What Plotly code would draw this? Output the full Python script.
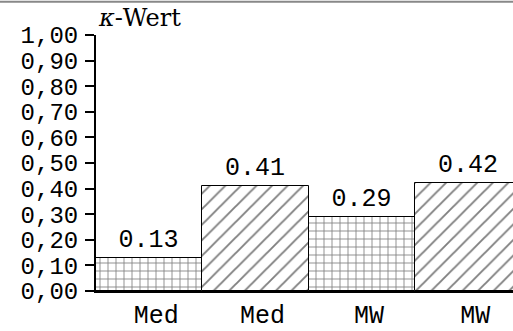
import plotly.graph_objects as go

categories = ["Med", "Med", "MW", "MW"]
kappa = [0.13, 0.41, 0.29, 0.42]
patterns = ["+", "/", "+", "/"]
pattern_sizes = [8, 11, 8, 11]
pattern_solidity = [0.2, 0.17, 0.2, 0.17]
value_labels = [f"{v:.2f}" for v in kappa]
ytick_vals = [i / 10 for i in range(11)]

mono = "Liberation Mono"
serif = "DejaVu Serif"

x = list(range(len(kappa)))

fig = go.Figure()
fig.add_trace(go.Bar(
    x=x, y=kappa, width=1.0,
    text=value_labels, textposition="outside", cliponaxis=False,
    textfont=dict(family=mono, size=25, color="black"),
    marker=dict(
        color="white",
        line=dict(color="black", width=1),
        pattern=dict(shape=patterns, size=pattern_sizes, solidity=pattern_solidity,
                     fgcolor="black", bgcolor="white", fillmode="overlay"),
    ),
))

fig.update_layout(
    width=513, height=331,
    margin=dict(l=96, r=0, t=35, b=33),
    plot_bgcolor="white", paper_bgcolor="white",
    separators=",.",
    showlegend=False,
    bargap=0,
    xaxis=dict(
        range=[-0.5, 3.42], tickvals=x, ticktext=categories,
        showgrid=False, zeroline=False, ticks="",
        showline=True, linecolor="black", linewidth=2,
        tickfont=dict(family=mono, size=25, color="black"),
        ticklabelshift=7, ticklabelstandoff=0,
    ),
    yaxis=dict(
        range=[0, 1], tickvals=ytick_vals, tickformat=".2f",
        showgrid=False, zeroline=False,
        ticks="outside", ticklen=9, tickwidth=2, tickcolor="black",
        showline=True, linecolor="black", linewidth=2,
        tickfont=dict(family=mono, size=24, color="black"),
        ticklabelstandoff=2,
    ),
    annotations=[dict(
        text="<i>κ</i>-Wert", xref="paper", yref="paper", x=0, y=1,
        xanchor="left", yanchor="bottom", showarrow=False, yshift=1,
        font=dict(family=serif, size=24, color="black"),
    )],
    shapes=[dict(type="line", xref="paper", yref="paper", x0=-0.3, x1=1.05,
                 y0=1.13, y1=1.13, line=dict(color="#888888", width=2))],
)

fig.write_html("out.html")
